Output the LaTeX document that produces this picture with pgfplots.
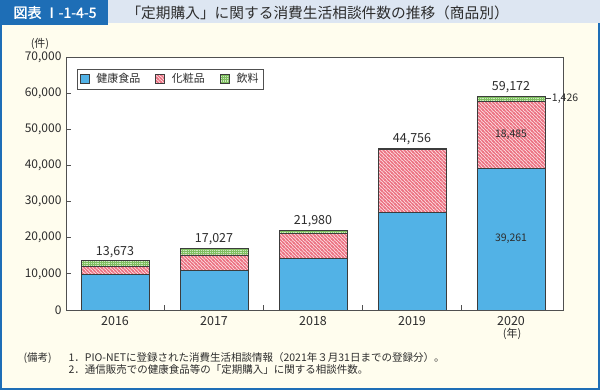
\documentclass[border=0pt]{standalone}
\usepackage{pgfplots}
\pgfplotsset{compat=1.18}
\usepackage{fontspec}
\setmainfont{Noto Sans CJK JP}
\newfontfamily\jpb{Noto Sans CJK JP}[FakeBold=1.5]
\usetikzlibrary{patterns}
\definecolor{titleblue}{RGB}{30,110,182}
\definecolor{lightbar}{RGB}{221,230,242}
\definecolor{cream}{RGB}{255,253,238}
\definecolor{barblue}{RGB}{82,178,230}
\definecolor{edge}{RGB}{60,60,60}
\definecolor{pinkbg}{RGB}{253,222,226}
\definecolor{hatchred}{RGB}{236,116,132}
\definecolor{greenbg}{RGB}{205,234,190}
\definecolor{greenline}{RGB}{126,190,96}
\definecolor{axisgray}{RGB}{80,80,80}
\definecolor{txt}{RGB}{45,45,45}
\pgfdeclarepatternformonly{pinkhatch}{\pgfqpoint{-1pt}{-1pt}}{\pgfqpoint{4.5pt}{4.5pt}}{\pgfqpoint{3.5pt}{3.5pt}}{%
  \pgfsetlinewidth{1.2pt}%
  \pgfpathmoveto{\pgfqpoint{-0.5pt}{4pt}}\pgfpathlineto{\pgfqpoint{4pt}{-0.5pt}}%
  \pgfpathmoveto{\pgfqpoint{-1pt}{1pt}}\pgfpathlineto{\pgfqpoint{1pt}{-1pt}}%
  \pgfpathmoveto{\pgfqpoint{2.5pt}{4.5pt}}\pgfpathlineto{\pgfqpoint{4.5pt}{2.5pt}}%
  \pgfusepath{stroke}}
\pgfdeclarepatternformonly{greengrid}{\pgfqpoint{-0.5pt}{-0.5pt}}{\pgfqpoint{2.7pt}{2.7pt}}{\pgfqpoint{2.2pt}{2.2pt}}{%
  \pgfsetlinewidth{0.9pt}%
  \pgfpathmoveto{\pgfqpoint{0pt}{-0.5pt}}\pgfpathlineto{\pgfqpoint{0pt}{2.7pt}}%
  \pgfpathmoveto{\pgfqpoint{-0.5pt}{0pt}}\pgfpathlineto{\pgfqpoint{2.7pt}{0pt}}%
  \pgfusepath{stroke}}
\pgfplotstableread{
x health cosme drink total
0 9880 2100 1693 13673
1 10870 4350 1807 17027
2 14300 6920 760 21980
3 26930 17450 376 44756
4 39261 18485 1426 59172
}\datatable
\begin{document}
\begin{tikzpicture}[x=1pt,y=1pt]
\fill[cream] (0,0) rectangle (600,390);
\draw[titleblue,line width=2pt] (1,1) rectangle (599,389);
\fill[lightbar] (0,367) rectangle (600,390);
\fill[titleblue] (0,365) rectangle (108,390);
\node[white,font=\jpb\fontsize{14}{16}\selectfont] at (55,377.5) {図表 Ⅰ-1-4-5};
\node[anchor=west,txt,font=\fontsize{14.7}{17}\selectfont] at (123,377.5) {「定期購入」に関する消費生活相談件数の推移（商品別）};
\node[txt,font=\fontsize{11}{12}\selectfont] at (40,346) {(件)};
\node[txt,font=\fontsize{11}{12}\selectfont] at (512,56) {(年)};
\node[anchor=west,txt,font=\fontsize{10.5}{11}\selectfont] at (20,32) {(備考)};
\node[anchor=west,txt,font=\fontsize{10.5}{11}\selectfont] at (65,32) {1．PIO-NETに登録された消費生活相談情報（2021年３月31日までの登録分）。};
\node[anchor=west,txt,font=\fontsize{10.5}{11}\selectfont] at (65,20) {2．通信販売での健康食品等の「定期購入」に関する相談件数。};
\fill[white] (66,80) rectangle (563,333);
\begin{axis}[
  at={(66pt,80pt)}, anchor=south west,
  width=497pt, height=253pt, scale only axis,
  xmin=-0.495, xmax=4.525, ymin=0, ymax=70000,
  ybar stacked, bar width=68pt,
  axis line style={draw=axisgray, line width=0.8pt},
  xtick={0,1,2,3,4},
  xticklabels={2016,2017,2018,2019,2020},
  minor xtick={0.5,1.5,2.5,3.5},
  major x tick style={draw=none},
  minor x tick style={draw=axisgray, line width=0.8pt},
  ytick={0,10000,...,70000},
  y tick style={draw=axisgray, line width=0.8pt},
  tick align=inside,
  major tick length=5pt, minor tick length=5pt,
  xtick pos=bottom, ytick pos=left,
  scaled y ticks=false,
  yticklabel style={/pgf/number format/1000 sep={,}, /pgf/number format/assume math mode=true, xshift=-1pt},
  tick label style={font=\fontsize{12}{13}\selectfont, text=txt},
  xticklabel style={yshift=-3pt, font=\fontsize{12.5}{13}\selectfont},
  legend style={at={(rel axis cs:0.022,0.953)}, anchor=north west,
    draw=axisgray, line width=0.6pt, fill=white,
    font=\fontsize{11}{12}\selectfont, text=txt,
    legend columns=3, inner sep=2.5pt,
    /tikz/every odd column/.append style={column sep=5pt},
    /tikz/every even column/.append style={column sep=13pt}},
  legend image code/.code={\draw[#1, line width=0.6pt] (0pt,-4.5pt) rectangle (9pt,4.5pt);},
]
\addplot[fill=barblue, draw=edge, line width=0.6pt] table[x=x,y=health]{\datatable};
\addlegendentry{健康食品}
\addplot[preaction={fill=pinkbg}, pattern=pinkhatch, pattern color=hatchred, draw=edge, line width=0.6pt] table[x=x,y=cosme]{\datatable};
\addlegendentry{化粧品}
\addplot[preaction={fill=greenbg}, pattern=greengrid, pattern color=greenline, draw=edge, line width=0.6pt] table[x=x,y=drink]{\datatable};
\addlegendentry{飲料}
\coordinate (t0) at (axis cs:0,13673);
\coordinate (t1) at (axis cs:1,17027);
\coordinate (t2) at (axis cs:2,21980);
\coordinate (t3) at (axis cs:3,44756);
\coordinate (t4) at (axis cs:4,59172);
\coordinate (c4) at (axis cs:4,48503);
\coordinate (h4) at (axis cs:4,19630);
\coordinate (d4a) at (axis cs:4.343,58459);
\coordinate (d4b) at (axis cs:4.40,58459);
\end{axis}
\begin{scope}[every node/.style={anchor=south, inner sep=1pt, yshift=2pt, text=txt, font=\fontsize{12.5}{13}\selectfont}]
\node at (t0) {13,673};
\node at (t1) {17,027};
\node at (t2) {21,980};
\node at (t3) {44,756};
\node at (t4) {59,172};
\end{scope}
\node[text=txt, font=\fontsize{10.5}{12}\selectfont] at (c4) {18,485};
\node[text=txt, font=\fontsize{10.5}{12}\selectfont] at (h4) {39,261};
\draw[edge, line width=0.6pt] (d4a) -- (d4b) node[right, inner sep=1pt, text=txt, font=\fontsize{10.5}{12}\selectfont] {1,426};
\end{tikzpicture}
\end{document}
